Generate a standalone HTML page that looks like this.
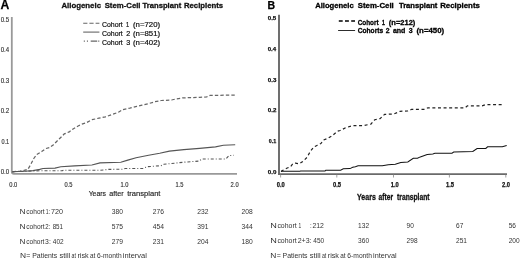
<!DOCTYPE html>
<html><head><meta charset="utf-8"><style>
html,body{margin:0;padding:0;background:#fff;width:520px;height:259px;overflow:hidden}
svg{display:block;filter:grayscale(1) blur(0.3px)}
text{font-family:"Liberation Sans",sans-serif}
</style></head><body>
<svg width="520" height="259" viewBox="0 0 520 259" font-family="Liberation Sans, sans-serif">
<rect width="520" height="259" fill="#fff"/>
<text x="0.4" y="8.8" font-size="12.2" font-weight="bold" fill="#000" text-anchor="start" stroke="#000" stroke-width="0.25">A</text>
<text x="61.4" y="7.6" font-size="7.6" font-weight="bold" fill="#111" text-anchor="start" textLength="39.62" lengthAdjust="spacingAndGlyphs" stroke="#111" stroke-width="0.28">Allogeneic</text>
<text x="104.68" y="7.6" font-size="7.6" font-weight="bold" fill="#111" text-anchor="start" textLength="35.87" lengthAdjust="spacingAndGlyphs" stroke="#111" stroke-width="0.28">Stem-Cell</text>
<text x="142.62" y="7.6" font-size="7.6" font-weight="bold" fill="#111" text-anchor="start" textLength="38.58" lengthAdjust="spacingAndGlyphs" stroke="#111" stroke-width="0.28">Transplant</text>
<text x="183.98" y="7.6" font-size="7.6" font-weight="bold" fill="#111" text-anchor="start" textLength="39.14" lengthAdjust="spacingAndGlyphs" stroke="#111" stroke-width="0.28">Recipients</text>
<line x1="83.2" y1="23.2" x2="99.4" y2="23.2" stroke="#666" stroke-width="1.1" stroke-dasharray="4.2 2"/>
<line x1="83.2" y1="32.1" x2="99.4" y2="32.1" stroke="#666" stroke-width="1.1"/>
<line x1="83.8" y1="41.1" x2="99.4" y2="41.1" stroke="#666" stroke-width="1.1" stroke-dasharray="1.1 2 1.1 2.7 6.5 1 1.1 9"/>
<text x="101.9" y="27.2" font-size="7.6" font-weight="normal" fill="#111" text-anchor="start" textLength="20.9" lengthAdjust="spacingAndGlyphs" stroke="#111" stroke-width="0.2">Cohort</text>
<text x="126.0" y="27.2" font-size="7.6" font-weight="normal" fill="#111" text-anchor="start" textLength="3.2" lengthAdjust="spacingAndGlyphs" stroke="#111" stroke-width="0.2">1</text>
<text x="133.0" y="27.2" font-size="7.6" font-weight="normal" fill="#111" text-anchor="start" textLength="27.1" lengthAdjust="spacingAndGlyphs" stroke="#111" stroke-width="0.2">(n=720)</text>
<text x="101.9" y="35.9" font-size="7.6" font-weight="normal" fill="#111" text-anchor="start" textLength="20.9" lengthAdjust="spacingAndGlyphs" stroke="#111" stroke-width="0.2">Cohort</text>
<text x="126.2" y="35.9" font-size="7.6" font-weight="normal" fill="#111" text-anchor="start" textLength="4.0" lengthAdjust="spacingAndGlyphs" stroke="#111" stroke-width="0.2">2</text>
<text x="133.0" y="35.9" font-size="7.6" font-weight="normal" fill="#111" text-anchor="start" textLength="27.1" lengthAdjust="spacingAndGlyphs" stroke="#111" stroke-width="0.2">(n=851)</text>
<text x="101.9" y="44.5" font-size="7.6" font-weight="normal" fill="#111" text-anchor="start" textLength="20.9" lengthAdjust="spacingAndGlyphs" stroke="#111" stroke-width="0.2">Cohort</text>
<text x="126.2" y="44.5" font-size="7.6" font-weight="normal" fill="#111" text-anchor="start" textLength="4.0" lengthAdjust="spacingAndGlyphs" stroke="#111" stroke-width="0.2">3</text>
<text x="133.0" y="44.5" font-size="7.6" font-weight="normal" fill="#111" text-anchor="start" textLength="27.1" lengthAdjust="spacingAndGlyphs" stroke="#111" stroke-width="0.2">(n=402)</text>
<path d="M11.8,17 V171.5 Q11.8,173.8 14,173.8 H237" fill="none" stroke="#999" stroke-width="1.8"/>
<text x="0.66" y="21.7" font-size="6.8" font-weight="normal" fill="#333" text-anchor="start" textLength="8.5" lengthAdjust="spacingAndGlyphs" stroke="#333" stroke-width="0.15">0.5</text>
<text x="0.66" y="52.24" font-size="6.8" font-weight="normal" fill="#333" text-anchor="start" textLength="8.41" lengthAdjust="spacingAndGlyphs" stroke="#333" stroke-width="0.15">0.4</text>
<text x="0.66" y="82.78" font-size="6.8" font-weight="normal" fill="#333" text-anchor="start" textLength="8.51" lengthAdjust="spacingAndGlyphs" stroke="#333" stroke-width="0.15">0.3</text>
<text x="0.66" y="113.32" font-size="6.8" font-weight="normal" fill="#333" text-anchor="start" textLength="8.55" lengthAdjust="spacingAndGlyphs" stroke="#333" stroke-width="0.15">0.2</text>
<text x="1.48" y="143.86" font-size="6.8" font-weight="normal" fill="#333" text-anchor="start" textLength="7.69" lengthAdjust="spacingAndGlyphs" stroke="#333" stroke-width="0.15">0.1</text>
<text x="0.66" y="174.4" font-size="6.8" font-weight="normal" fill="#333" text-anchor="start" textLength="8.48" lengthAdjust="spacingAndGlyphs" stroke="#333" stroke-width="0.15">0.0</text>
<text x="13.3" y="186.6" font-size="6.8" font-weight="normal" fill="#333" text-anchor="middle" textLength="8" lengthAdjust="spacingAndGlyphs" stroke="#333" stroke-width="0.15">0.0</text>
<text x="68.5" y="186.6" font-size="6.8" font-weight="normal" fill="#333" text-anchor="middle" textLength="8" lengthAdjust="spacingAndGlyphs" stroke="#333" stroke-width="0.15">0.5</text>
<text x="124.4" y="186.6" font-size="6.8" font-weight="normal" fill="#333" text-anchor="middle" textLength="8" lengthAdjust="spacingAndGlyphs" stroke="#333" stroke-width="0.15">1.0</text>
<text x="179.5" y="186.6" font-size="6.8" font-weight="normal" fill="#333" text-anchor="middle" textLength="8" lengthAdjust="spacingAndGlyphs" stroke="#333" stroke-width="0.15">1.5</text>
<text x="234.6" y="186.6" font-size="6.8" font-weight="normal" fill="#333" text-anchor="middle" textLength="8" lengthAdjust="spacingAndGlyphs" stroke="#333" stroke-width="0.15">2.0</text>
<text x="88.65" y="196.4" font-size="7.6" font-weight="normal" fill="#222" text-anchor="start" textLength="17.39" lengthAdjust="spacingAndGlyphs" stroke="#222" stroke-width="0.15">Years</text>
<text x="109.3" y="196.4" font-size="7.6" font-weight="normal" fill="#222" text-anchor="start" textLength="14.32" lengthAdjust="spacingAndGlyphs" stroke="#222" stroke-width="0.15">after</text>
<text x="127.19" y="196.4" font-size="7.6" font-weight="normal" fill="#222" text-anchor="start" textLength="33.27" lengthAdjust="spacingAndGlyphs" stroke="#222" stroke-width="0.15">transplant</text>
<polyline points="12.5,171.8 14.2,171.6 20.0,171.2 23.0,170.7 27.9,169.3 30.8,164.4 33.8,158.5 36.7,154.5 41.7,151.6 45.6,148.6 49.5,147.6 53.5,144.7 56.4,141.7 59.4,138.8 64.3,133.9 69.2,131.9 73.1,128.9 78.1,126.0 81.5,124.3 86.3,122.7 92.1,119.7 99.0,118.1 105.4,116.9 112.4,114.4 118.5,112.2 122.8,109.6 129.8,108.2 136.7,106.4 142.0,105.2 148.9,103.5 155.0,101.7 161.1,100.5 171.5,100.0 175.4,99.1 182.4,97.9 199.8,97.4 206.7,96.9 210.2,95.3 217.2,95.3 235.0,95.1" fill="none" stroke="#666" stroke-width="1.25" stroke-dasharray="3.4 2.1"/>
<polyline points="12.5,171.6 25.0,171.3 33.0,170.6 39.7,169.4 43.0,168.5 55.0,168.1 60.8,166.7 74.6,165.9 91.9,165.0 100.0,162.9 120.8,162.2 127.8,160.1 136.1,157.8 148.6,155.3 159.7,153.2 169.4,151.1 183.8,149.6 199.6,148.4 215.5,146.9 223.4,145.3 235.2,144.8" fill="none" stroke="#555" stroke-width="1.1"/>
<polyline points="12.5,171.6 40.0,170.8 62.0,170.8 64.0,170.2 100.0,170.3 108.3,169.4 122.2,169.2 125.0,168.5 143.0,168.5 147.2,166.7 161.1,165.7 163.9,164.3 183.8,162.2 198.9,161.1 202.0,159.0 225.8,159.0 228.9,155.6 233.7,155.3" fill="none" stroke="#555" stroke-width="1.1" stroke-dasharray="3 2 1 2"/>
<text x="19.41" y="213.9" font-size="6.6" font-weight="normal" fill="#333" text-anchor="start" textLength="6.08" lengthAdjust="spacingAndGlyphs">N</text>
<text x="26.32" y="213.9" font-size="6.6" font-weight="normal" fill="#333" text-anchor="start" textLength="18.33" lengthAdjust="spacingAndGlyphs">cohort</text>
<text x="45.81" y="213.9" font-size="6.6" font-weight="normal" fill="#333" text-anchor="start" textLength="4.25" lengthAdjust="spacingAndGlyphs">1:</text>
<text x="51.03" y="213.9" font-size="6.6" font-weight="normal" fill="#333" text-anchor="start" textLength="12.05" lengthAdjust="spacingAndGlyphs">720</text>
<text x="111.8" y="213.9" font-size="6.6" font-weight="normal" fill="#333" text-anchor="start" textLength="11.2" lengthAdjust="spacingAndGlyphs">380</text>
<text x="152.7" y="213.9" font-size="6.6" font-weight="normal" fill="#333" text-anchor="start" textLength="11.2" lengthAdjust="spacingAndGlyphs">276</text>
<text x="197.2" y="213.9" font-size="6.6" font-weight="normal" fill="#333" text-anchor="start" textLength="11.2" lengthAdjust="spacingAndGlyphs">232</text>
<text x="241.6" y="213.9" font-size="6.6" font-weight="normal" fill="#333" text-anchor="start" textLength="11.2" lengthAdjust="spacingAndGlyphs">208</text>
<text x="19.41" y="228.5" font-size="6.6" font-weight="normal" fill="#333" text-anchor="start" textLength="6.08" lengthAdjust="spacingAndGlyphs">N</text>
<text x="26.32" y="228.5" font-size="6.6" font-weight="normal" fill="#333" text-anchor="start" textLength="18.33" lengthAdjust="spacingAndGlyphs">cohort</text>
<text x="45.29" y="228.5" font-size="6.6" font-weight="normal" fill="#333" text-anchor="start" textLength="5.06" lengthAdjust="spacingAndGlyphs">2:</text>
<text x="52.63" y="228.5" font-size="6.6" font-weight="normal" fill="#333" text-anchor="start" textLength="10.48" lengthAdjust="spacingAndGlyphs">851</text>
<text x="111.8" y="228.5" font-size="6.6" font-weight="normal" fill="#333" text-anchor="start" textLength="11.2" lengthAdjust="spacingAndGlyphs">575</text>
<text x="152.7" y="228.5" font-size="6.6" font-weight="normal" fill="#333" text-anchor="start" textLength="11.2" lengthAdjust="spacingAndGlyphs">454</text>
<text x="197.2" y="228.5" font-size="6.6" font-weight="normal" fill="#333" text-anchor="start" textLength="11.2" lengthAdjust="spacingAndGlyphs">391</text>
<text x="241.6" y="228.5" font-size="6.6" font-weight="normal" fill="#333" text-anchor="start" textLength="11.2" lengthAdjust="spacingAndGlyphs">344</text>
<text x="19.42" y="243.6" font-size="6.6" font-weight="normal" fill="#333" text-anchor="start" textLength="5.95" lengthAdjust="spacingAndGlyphs">N</text>
<text x="26.32" y="243.6" font-size="6.6" font-weight="normal" fill="#333" text-anchor="start" textLength="18.12" lengthAdjust="spacingAndGlyphs">cohort</text>
<text x="45.14" y="243.6" font-size="6.6" font-weight="normal" fill="#333" text-anchor="start" textLength="5.68" lengthAdjust="spacingAndGlyphs">3:</text>
<text x="52.85" y="243.6" font-size="6.6" font-weight="normal" fill="#333" text-anchor="start" textLength="10.88" lengthAdjust="spacingAndGlyphs">402</text>
<text x="111.8" y="243.6" font-size="6.6" font-weight="normal" fill="#333" text-anchor="start" textLength="11.2" lengthAdjust="spacingAndGlyphs">279</text>
<text x="152.7" y="243.6" font-size="6.6" font-weight="normal" fill="#333" text-anchor="start" textLength="11.2" lengthAdjust="spacingAndGlyphs">231</text>
<text x="197.2" y="243.6" font-size="6.6" font-weight="normal" fill="#333" text-anchor="start" textLength="11.2" lengthAdjust="spacingAndGlyphs">204</text>
<text x="241.6" y="243.6" font-size="6.6" font-weight="normal" fill="#333" text-anchor="start" textLength="11.2" lengthAdjust="spacingAndGlyphs">180</text>
<text x="20.01" y="258.2" font-size="6.7" font-weight="normal" fill="#333" text-anchor="start" textLength="6.08" lengthAdjust="spacingAndGlyphs">N</text>
<text x="26.36" y="258.2" font-size="6.7" font-weight="normal" fill="#333" text-anchor="start" textLength="4.09" lengthAdjust="spacingAndGlyphs">=</text>
<text x="32.23" y="258.2" font-size="6.7" font-weight="normal" fill="#333" text-anchor="start" textLength="25.02" lengthAdjust="spacingAndGlyphs">Patients</text>
<text x="59.49" y="258.2" font-size="6.7" font-weight="normal" fill="#333" text-anchor="start" textLength="10.81" lengthAdjust="spacingAndGlyphs">still</text>
<text x="71.58" y="258.2" font-size="6.7" font-weight="normal" fill="#333" text-anchor="start" textLength="4.36" lengthAdjust="spacingAndGlyphs">at</text>
<text x="77.42" y="258.2" font-size="6.7" font-weight="normal" fill="#333" text-anchor="start" textLength="11.27" lengthAdjust="spacingAndGlyphs">risk</text>
<text x="89.93" y="258.2" font-size="6.7" font-weight="normal" fill="#333" text-anchor="start" textLength="5.32" lengthAdjust="spacingAndGlyphs">at</text>
<text x="97.06" y="258.2" font-size="6.7" font-weight="normal" fill="#333" text-anchor="start" textLength="24.58" lengthAdjust="spacingAndGlyphs">6-month</text>
<text x="122.8" y="258.2" font-size="6.7" font-weight="normal" fill="#333" text-anchor="start" textLength="24.1" lengthAdjust="spacingAndGlyphs">interval</text>
<text x="267.6" y="8.7" font-size="10.5" font-weight="bold" fill="#000" text-anchor="start" stroke="#000" stroke-width="0.25">B</text>
<text x="315.21" y="7.6" font-size="7.6" font-weight="bold" fill="#000" text-anchor="start" textLength="38.51" lengthAdjust="spacingAndGlyphs" stroke="#000" stroke-width="0.3">Allogeneic</text>
<text x="357.78" y="7.6" font-size="7.6" font-weight="bold" fill="#000" text-anchor="start" textLength="35.98" lengthAdjust="spacingAndGlyphs" stroke="#000" stroke-width="0.3">Stem-Cell</text>
<text x="398.92" y="7.6" font-size="7.6" font-weight="bold" fill="#000" text-anchor="start" textLength="38.48" lengthAdjust="spacingAndGlyphs" stroke="#000" stroke-width="0.3">Transplant</text>
<text x="440.17" y="7.6" font-size="7.6" font-weight="bold" fill="#000" text-anchor="start" textLength="39.75" lengthAdjust="spacingAndGlyphs" stroke="#000" stroke-width="0.3">Recipients</text>
<line x1="338.8" y1="21" x2="355" y2="21" stroke="#000" stroke-width="1.4" stroke-dasharray="3.9 2.3"/>
<line x1="338.1" y1="30.5" x2="355.1" y2="30.5" stroke="#222" stroke-width="0.95"/>
<text x="357.64" y="24.9" font-size="8.0" font-weight="bold" fill="#000" text-anchor="start" textLength="21.04" lengthAdjust="spacingAndGlyphs" stroke="#000" stroke-width="0.3">Cohort</text>
<text x="382.08" y="24.9" font-size="8.0" font-weight="bold" fill="#000" text-anchor="start" textLength="2.87" lengthAdjust="spacingAndGlyphs" stroke="#000" stroke-width="0.3">1</text>
<text x="388.83" y="24.9" font-size="8.0" font-weight="bold" fill="#000" text-anchor="start" textLength="26.55" lengthAdjust="spacingAndGlyphs" stroke="#000" stroke-width="0.3">(n=212)</text>
<text x="357.63" y="33.3" font-size="8.0" font-weight="bold" fill="#000" text-anchor="start" textLength="25.55" lengthAdjust="spacingAndGlyphs" stroke="#000" stroke-width="0.3">Cohorts</text>
<text x="385.86" y="33.3" font-size="8.0" font-weight="bold" fill="#000" text-anchor="start" textLength="3.81" lengthAdjust="spacingAndGlyphs" stroke="#000" stroke-width="0.3">2</text>
<text x="392.89" y="33.3" font-size="8.0" font-weight="bold" fill="#000" text-anchor="start" textLength="12.57" lengthAdjust="spacingAndGlyphs" stroke="#000" stroke-width="0.3">and</text>
<text x="408.64" y="33.3" font-size="8.0" font-weight="bold" fill="#000" text-anchor="start" textLength="3.92" lengthAdjust="spacingAndGlyphs" stroke="#000" stroke-width="0.3">3</text>
<text x="416.51" y="33.3" font-size="8.0" font-weight="bold" fill="#000" text-anchor="start" textLength="27.68" lengthAdjust="spacingAndGlyphs" stroke="#000" stroke-width="0.3">(n=450)</text>
<line x1="279" y1="14.8" x2="279" y2="175" stroke="#555" stroke-width="1.7"/>
<line x1="278.2" y1="174.2" x2="507" y2="174.2" stroke="#6a6a6a" stroke-width="1.7"/>
<line x1="280.6" y1="174.5" x2="280.6" y2="177.5" stroke="#888" stroke-width="0.8"/>
<line x1="336.8" y1="174.5" x2="336.8" y2="177.5" stroke="#888" stroke-width="0.8"/>
<line x1="393.5" y1="174.5" x2="393.5" y2="177.5" stroke="#888" stroke-width="0.8"/>
<line x1="449.4" y1="174.5" x2="449.4" y2="177.5" stroke="#888" stroke-width="0.8"/>
<line x1="505.8" y1="174.5" x2="505.8" y2="177.5" stroke="#888" stroke-width="0.8"/>
<text x="267.76" y="19.75" font-size="6.2" font-weight="bold" fill="#111" text-anchor="start" textLength="8.51" lengthAdjust="spacingAndGlyphs" stroke="#111" stroke-width="0.25">0.5</text>
<text x="267.76" y="50.63" font-size="6.2" font-weight="bold" fill="#111" text-anchor="start" textLength="8.37" lengthAdjust="spacingAndGlyphs" stroke="#111" stroke-width="0.25">0.4</text>
<text x="267.76" y="81.51" font-size="6.2" font-weight="bold" fill="#111" text-anchor="start" textLength="8.57" lengthAdjust="spacingAndGlyphs" stroke="#111" stroke-width="0.25">0.3</text>
<text x="267.76" y="112.39" font-size="6.2" font-weight="bold" fill="#111" text-anchor="start" textLength="8.59" lengthAdjust="spacingAndGlyphs" stroke="#111" stroke-width="0.25">0.2</text>
<text x="268.79" y="143.27" font-size="6.2" font-weight="bold" fill="#111" text-anchor="start" textLength="7.46" lengthAdjust="spacingAndGlyphs" stroke="#111" stroke-width="0.25">0.1</text>
<text x="267.76" y="174.15" font-size="6.2" font-weight="bold" fill="#111" text-anchor="start" textLength="8.6" lengthAdjust="spacingAndGlyphs" stroke="#111" stroke-width="0.25">0.0</text>
<text x="280.8" y="186.6" font-size="6.6" font-weight="bold" fill="#111" text-anchor="middle" textLength="8" lengthAdjust="spacingAndGlyphs" stroke="#111" stroke-width="0.25">0.0</text>
<text x="337" y="186.6" font-size="6.6" font-weight="bold" fill="#111" text-anchor="middle" textLength="8" lengthAdjust="spacingAndGlyphs" stroke="#111" stroke-width="0.25">0.5</text>
<text x="394.8" y="186.6" font-size="6.6" font-weight="bold" fill="#111" text-anchor="middle" textLength="8" lengthAdjust="spacingAndGlyphs" stroke="#111" stroke-width="0.25">1.0</text>
<text x="450" y="186.6" font-size="6.6" font-weight="bold" fill="#111" text-anchor="middle" textLength="8" lengthAdjust="spacingAndGlyphs" stroke="#111" stroke-width="0.25">1.5</text>
<text x="506" y="186.6" font-size="6.6" font-weight="bold" fill="#111" text-anchor="middle" textLength="8" lengthAdjust="spacingAndGlyphs" stroke="#111" stroke-width="0.25">2.0</text>
<text x="357.08" y="200.1" font-size="8.4" font-weight="bold" fill="#111" text-anchor="start" textLength="18.7" lengthAdjust="spacingAndGlyphs" stroke="#111" stroke-width="0.3">Years</text>
<text x="378.61" y="200.1" font-size="8.4" font-weight="bold" fill="#111" text-anchor="start" textLength="14.4" lengthAdjust="spacingAndGlyphs" stroke="#111" stroke-width="0.3">after</text>
<text x="397.12" y="200.1" font-size="8.4" font-weight="bold" fill="#111" text-anchor="start" textLength="32.36" lengthAdjust="spacingAndGlyphs" stroke="#111" stroke-width="0.3">transplant</text>
<polyline points="281.0,171.5 282.4,170.6 286.7,168.2 290.6,166.6 293.0,163.5 295.4,163.1 299.3,163.8 303.3,161.1 307.0,157.4 310.4,151.3 313.9,147.0 317.4,145.2 320.9,143.5 323.5,140.0 327.8,138.3 332.2,135.7 337.4,131.3 340.1,130.5 345.9,127.6 352.6,125.6 363.2,125.6 370.9,124.1 374.8,119.7 380.0,118.6 384.6,114.4 393.9,114.0 400.1,111.3 407.8,110.9 411.7,109.3 424.8,109.3 427.9,107.8 465.1,107.8 467.4,105.9 482.1,105.9 485.2,104.7 504.0,104.7" fill="none" stroke="#222" stroke-width="1.2" stroke-dasharray="3 2.6"/>
<polyline points="281.0,171.3 300.0,171.3 300.5,170.9 325.1,170.9 325.8,170.2 340.6,170.2 343.3,168.8 350.0,168.6 352.7,167.2 355.4,166.8 358.1,165.7 382.3,165.7 388.3,164.7 395.3,164.3 400.8,162.5 407.8,161.9 413.3,158.3 417.5,158.3 420.3,156.9 427.2,154.6 432.8,153.9 434.9,153.2 452.0,153.2 453.7,152.0 472.8,151.5 477.1,148.5 485.8,148.5 487.6,146.8 502.3,146.8 506.7,145.4" fill="none" stroke="#111" stroke-width="1.05"/>
<text x="270.25" y="228.1" font-size="6.6" font-weight="normal" fill="#333" text-anchor="start" textLength="6.59" lengthAdjust="spacingAndGlyphs">N</text>
<text x="277.41" y="228.1" font-size="6.6" font-weight="normal" fill="#333" text-anchor="start" textLength="19.24" lengthAdjust="spacingAndGlyphs">cohort</text>
<text x="298.43" y="228.1" font-size="6.6" font-weight="normal" fill="#333" text-anchor="start" textLength="2.71" lengthAdjust="spacingAndGlyphs">1</text>
<text x="312.45" y="228.1" font-size="6.6" font-weight="normal" fill="#333" text-anchor="start" textLength="11.49" lengthAdjust="spacingAndGlyphs">212</text>
<text x="308.85" y="228.1" font-size="6.6" font-weight="normal" fill="#aaa" text-anchor="start" textLength="3.79" lengthAdjust="spacingAndGlyphs">:</text>
<text x="270.25" y="242.6" font-size="6.6" font-weight="normal" fill="#333" text-anchor="start" textLength="6.59" lengthAdjust="spacingAndGlyphs">N</text>
<text x="277.41" y="242.6" font-size="6.6" font-weight="normal" fill="#333" text-anchor="start" textLength="19.24" lengthAdjust="spacingAndGlyphs">cohort</text>
<text x="297.65" y="242.6" font-size="6.6" font-weight="normal" fill="#333" text-anchor="start" textLength="13.9" lengthAdjust="spacingAndGlyphs">2+3:</text>
<text x="313.25" y="242.6" font-size="6.6" font-weight="normal" fill="#333" text-anchor="start" textLength="10.91" lengthAdjust="spacingAndGlyphs">450</text>
<text x="358.1" y="228.1" font-size="6.6" font-weight="normal" fill="#333" text-anchor="start" textLength="10.95" lengthAdjust="spacingAndGlyphs">132</text>
<text x="406.6" y="228.1" font-size="6.6" font-weight="normal" fill="#333" text-anchor="start" textLength="7.3" lengthAdjust="spacingAndGlyphs">90</text>
<text x="456.0" y="228.1" font-size="6.6" font-weight="normal" fill="#333" text-anchor="start" textLength="7.3" lengthAdjust="spacingAndGlyphs">67</text>
<text x="508.7" y="228.1" font-size="6.6" font-weight="normal" fill="#333" text-anchor="start" textLength="7.3" lengthAdjust="spacingAndGlyphs">56</text>
<text x="358.1" y="242.6" font-size="6.6" font-weight="normal" fill="#333" text-anchor="start" textLength="10.95" lengthAdjust="spacingAndGlyphs">360</text>
<text x="406.6" y="242.6" font-size="6.6" font-weight="normal" fill="#333" text-anchor="start" textLength="10.95" lengthAdjust="spacingAndGlyphs">298</text>
<text x="456.0" y="242.6" font-size="6.6" font-weight="normal" fill="#333" text-anchor="start" textLength="10.95" lengthAdjust="spacingAndGlyphs">251</text>
<text x="508.7" y="242.6" font-size="6.6" font-weight="normal" fill="#333" text-anchor="start" textLength="10.95" lengthAdjust="spacingAndGlyphs">200</text>
<text x="270.31" y="258.0" font-size="6.7" font-weight="normal" fill="#333" text-anchor="start" textLength="6.08" lengthAdjust="spacingAndGlyphs">N</text>
<text x="276.66" y="258.0" font-size="6.7" font-weight="normal" fill="#333" text-anchor="start" textLength="4.09" lengthAdjust="spacingAndGlyphs">=</text>
<text x="282.53" y="258.0" font-size="6.7" font-weight="normal" fill="#333" text-anchor="start" textLength="25.02" lengthAdjust="spacingAndGlyphs">Patients</text>
<text x="309.79" y="258.0" font-size="6.7" font-weight="normal" fill="#333" text-anchor="start" textLength="10.81" lengthAdjust="spacingAndGlyphs">still</text>
<text x="321.88" y="258.0" font-size="6.7" font-weight="normal" fill="#333" text-anchor="start" textLength="4.36" lengthAdjust="spacingAndGlyphs">at</text>
<text x="327.72" y="258.0" font-size="6.7" font-weight="normal" fill="#333" text-anchor="start" textLength="11.27" lengthAdjust="spacingAndGlyphs">risk</text>
<text x="340.23" y="258.0" font-size="6.7" font-weight="normal" fill="#333" text-anchor="start" textLength="5.32" lengthAdjust="spacingAndGlyphs">at</text>
<text x="347.36" y="258.0" font-size="6.7" font-weight="normal" fill="#333" text-anchor="start" textLength="24.58" lengthAdjust="spacingAndGlyphs">6-month</text>
<text x="373.11" y="258.0" font-size="6.7" font-weight="normal" fill="#333" text-anchor="start" textLength="23.47" lengthAdjust="spacingAndGlyphs">interval</text>
</svg>
</body></html>
